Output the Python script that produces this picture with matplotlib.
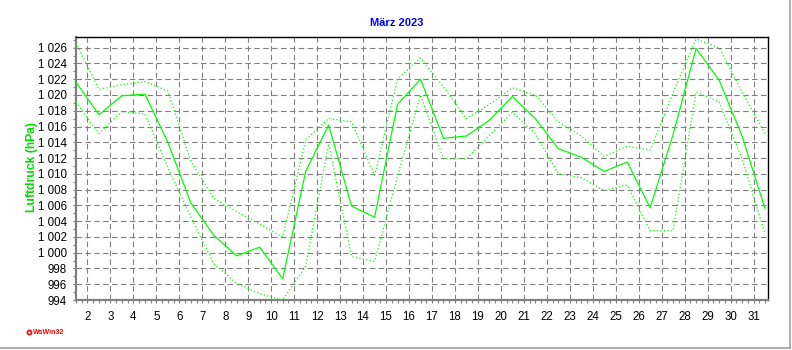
"""Luftdruck März 2023 – daily mean with min/max envelope (WsWin32 style)."""

from __future__ import annotations

import matplotlib

matplotlib.use("Agg")
import matplotlib.pyplot as plt
from matplotlib.lines import Line2D
from matplotlib.ticker import FuncFormatter, MultipleLocator

plt.rcParams["font.family"] = ["Liberation Sans", "DejaVu Sans"]

# ── Data (hPa, one value per day, plotted at noon) ─────────────────────

DAYS = list(range(1, 32))

MEAN = [1021.6, 1017.5, 1019.9, 1020.1, 1014.0, 1006.3, 1002.2, 999.6, 1000.7, 996.7,
        1010.3, 1016.2, 1005.9, 1004.5, 1018.8, 1022.0, 1014.5, 1014.8, 1016.8, 1019.8,
        1017.0, 1013.2, 1012.1, 1010.3, 1011.5, 1005.7, 1015.0, 1025.9, 1021.9, 1014.8,
        1005.6]

MAXIMUM = [1026.6, 1020.7, 1021.3, 1021.7, 1020.5, 1011.6, 1006.9, 1005.2, 1003.6, 1002.0,
           1014.3, 1017.0, 1016.6, 1009.8, 1022.0, 1024.7, 1021.0, 1017.0, 1018.8, 1020.9,
           1020.0, 1016.6, 1014.8, 1012.2, 1013.5, 1013.0, 1020.3, 1027.1, 1026.0, 1020.4,
           1015.1]

MINIMUM = [1019.1, 1015.1, 1017.9, 1017.6, 1010.8, 1004.5, 998.6, 996.1, 994.8, 994.0,
           998.3, 1013.8, 999.5, 998.9, 1009.7, 1020.0, 1011.9, 1011.9, 1014.9, 1017.8,
           1015.1, 1010.0, 1009.5, 1007.9, 1008.6, 1002.8, 1002.8, 1020.4, 1019.1, 1011.9,
           1002.4]

TITLE = "März 2023"
Y_LABEL = "Luftdruck (hPa)"
DAY_TICKS = list(range(2, 32))

LINE_GREEN = "#00ff00"
GRID_GREY = "#808080"


def _hpa_fmt(v: float, _pos) -> str:
    return f"{int(round(v)):,}".replace(",", " ")


def main() -> None:
    fig = plt.figure(figsize=(7.92, 3.5), dpi=100, facecolor="white")
    ax = fig.add_axes([76 / 792, 1 - 300 / 350, 692 / 792, 263 / 350])

    x = [d + 0.5 for d in DAYS]
    ax.plot(x, MAXIMUM, color=LINE_GREEN, lw=0.9, ls=(0, (1, 1.8)), zorder=3)
    ax.plot(x, MINIMUM, color=LINE_GREEN, lw=0.9, ls=(0, (1, 1.8)), zorder=3)
    ax.plot(x, MEAN, color=LINE_GREEN, lw=0.9, zorder=4)

    ax.set_xlim(1.5, 31.63)
    ax.set_ylim(994, 1027.35)

    # grid
    for d in DAY_TICKS:
        ax.axvline(d, color=GRID_GREY, lw=0.8, ls=(0, (5, 3)), zorder=1)
    for v in range(996, 1027, 2):
        ax.axhline(v, color=GRID_GREY, lw=0.8, ls=(0, (5, 3)), zorder=1)

    ax.set_xticks(DAY_TICKS)
    ax.xaxis.set_minor_locator(MultipleLocator(0.25))
    ax.yaxis.set_major_locator(MultipleLocator(2))
    ax.yaxis.set_minor_locator(MultipleLocator(1))
    ax.yaxis.set_major_formatter(FuncFormatter(_hpa_fmt))

    ax.tick_params(axis="both", which="both", direction="out", color=GRID_GREY,
                   length=2.2, width=0.8, labelsize=8.3, labelcolor="black")
    ax.tick_params(axis="x", which="major", pad=6)
    ax.tick_params(axis="y", which="major", pad=4.5)

    for side in ("left", "bottom"):
        ax.spines[side].set_color(GRID_GREY)
        ax.spines[side].set_linewidth(1.6)
    for side in ("top", "right"):
        ax.spines[side].set_color("black")
        ax.spines[side].set_linewidth(1.0)

    fig.text(397 / 792, 1 - 23 / 350, TITLE, color="#0000ff", fontsize=8,
             fontweight="bold", ha="center", va="center")
    fig.text(32 / 792, 1 - 167 / 350, Y_LABEL, color="#00dd00", fontsize=8.7,
             fontweight="bold", rotation=90, ha="center", va="center")

    # WsWin32 signature
    fig.add_artist(Line2D([29 / 792], [1 - 332 / 350], marker="o", markersize=3,
                          markerfacecolor="white", markeredgecolor="red",
                          markeredgewidth=1.2, transform=fig.transFigure))
    fig.text(33 / 792, 1 - 332 / 350, "WsWin32", color="red", fontsize=5,
             fontweight="bold", ha="left", va="center")

    # window frame (right / bottom)
    fig.add_artist(Line2D([790 / 792, 790 / 792], [2 / 350, 1], color="#a0a0a0",
                          lw=1.2, transform=fig.transFigure))
    fig.add_artist(Line2D([0, 790 / 792], [2 / 350, 2 / 350], color="#a0a0a0",
                          lw=1.2, transform=fig.transFigure))

    fig.savefig("out.png", dpi=100, facecolor="white")
    plt.close(fig)


if __name__ == "__main__":
    main()
